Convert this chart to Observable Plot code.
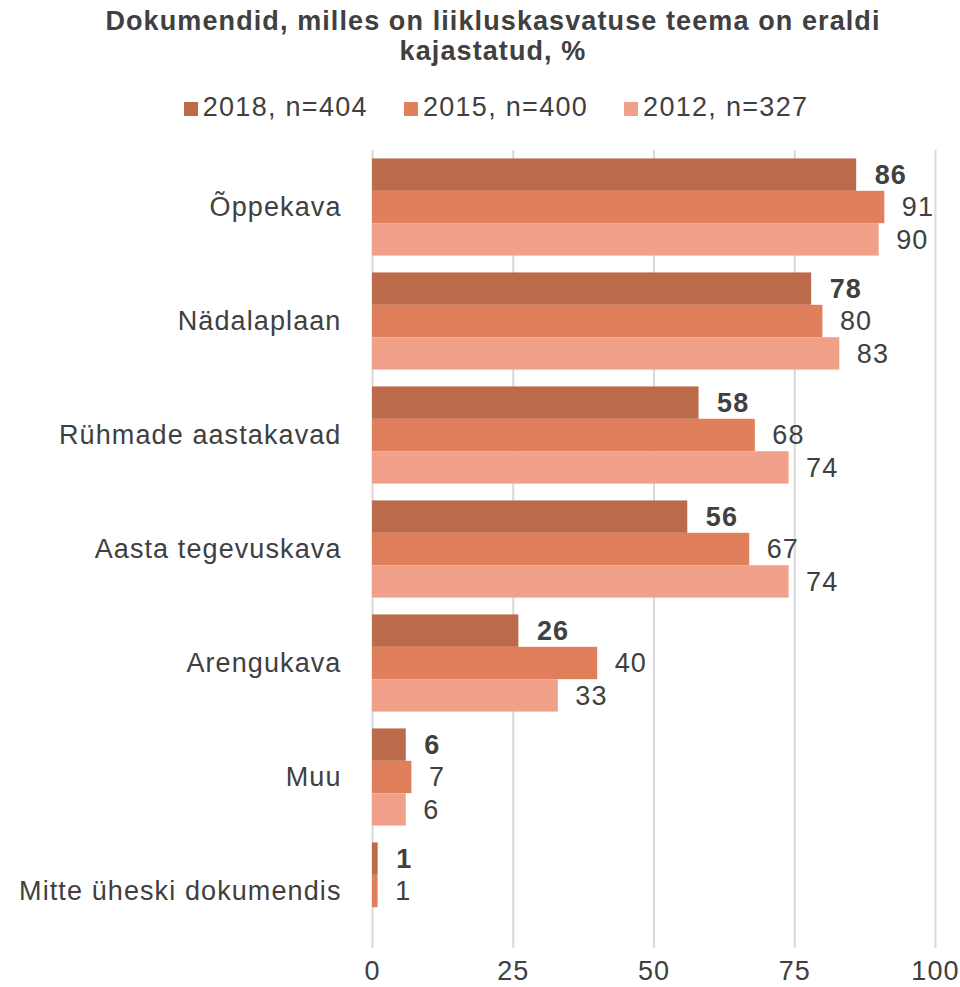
<!DOCTYPE html>
<html>
<head>
<meta charset="utf-8">
<script src="https://cdn.jsdelivr.net/npm/d3@7"></script>
<script src="https://cdn.jsdelivr.net/npm/@observablehq/plot@0.6"></script>
<style>
  html, body { margin: 0; padding: 0; background: #fff; }
  body { width: 960px; font-family: "Liberation Sans", Arial, Helvetica, sans-serif; color: #404040; }
  #header { height: 130px; position: relative; }
  #title { position: absolute; top: 6px; left: 0; width: 986px; text-align: center; font-weight: bold; font-size: 27px; line-height: 30px; letter-spacing: 1.1px; }
  #legend { position: absolute; top: 92px; left: 0; width: 992px; display: flex; justify-content: center; gap: 36px; font-size: 27px; line-height: 30px; letter-spacing: 1.3px; }
  .item { display: flex; align-items: center; }
  .sw { width: 14px; height: 14px; margin-right: 5px; margin-top: 4px; }
  #chart svg { display: block; }
</style>
</head>
<body>
<div id="header">
  <div id="title">Dokumendid, milles on liikluskasvatuse teema on eraldi<br>kajastatud, %</div>
  <div id="legend"></div>
</div>
<div id="chart"></div>
<script>
const categories = ["Õppekava", "Nädalaplaan", "Rühmade aastakavad", "Aasta tegevuskava", "Arengukava", "Muu", "Mitte üheski dokumendis"];
const series = ["2018", "2015", "2012"];
const seriesLabels = ["2018, n=404", "2015, n=400", "2012, n=327"];
const colors = ["#BC6B4A", "#E07F5C", "#F1A189"];
const values2018 = [86, 78, 58, 56, 26, 6, 1];
const values2015 = [91, 80, 68, 67, 40, 7, 1];
const values2012 = [90, 83, 74, 74, 33, 6, null];
const xTicks = [0, 25, 50, 75, 100];

const valuesBySeries = {"2018": values2018, "2015": values2015, "2012": values2012};
const data = [];
categories.forEach((c, i) => {
  series.forEach(s => {
    const v = valuesBySeries[s][i];
    if (v != null) data.push({cat: c, year: s, value: v});
  });
});

const legend = document.getElementById("legend");
series.forEach((s, i) => {
  const it = document.createElement("div");
  it.className = "item";
  it.innerHTML = `<span class="sw" style="background:${colors[i]}"></span><span>${seriesLabels[i]}</span>`;
  legend.appendChild(it);
});

const chart = Plot.plot({
  width: 960,
  height: 857,
  marginTop: 20,
  marginBottom: 39,
  marginLeft: 372,
  marginRight: 25,
  style: {fontFamily: '"Liberation Sans", Arial, Helvetica, sans-serif', fontSize: "27px", color: "#404040", background: "#fff", letterSpacing: "1.1px"},
  x: {domain: [0, 100], axis: null},
  y: {domain: series, axis: null, paddingInner: 0, paddingOuter: 0.26, round: false},
  fy: {domain: categories, padding: 0, label: null, axis: null, round: false},
  color: {domain: series, range: colors},
  marks: [
    Plot.gridX(xTicks, {stroke: "#d9d9d9", strokeOpacity: 1, strokeWidth: 2}),
    Plot.barX(data, {x: "value", y: "year", fy: "cat", fill: "year"}),
    Plot.text(data.filter(d => d.year === "2018"), {x: "value", y: "year", fy: "cat", text: d => String(d.value), dx: 18, textAnchor: "start", fontWeight: "bold", fill: "#404040", fontSize: 27}),
    Plot.text(data.filter(d => d.year !== "2018"), {x: "value", y: "year", fy: "cat", text: d => String(d.value), dx: 17, textAnchor: "start", fill: "#404040", fontSize: 27}),
    Plot.axisFy({anchor: "left", tickSize: 0, tickPadding: 31, label: null, fontSize: 27, fill: "#404040"}),
    Plot.axisX(xTicks, {anchor: "bottom", tickSize: 0, tickPadding: 12, label: null, fontSize: 27, fill: "#404040"})
  ]
});
document.getElementById("chart").appendChild(chart);
</script>
</body>
</html>
